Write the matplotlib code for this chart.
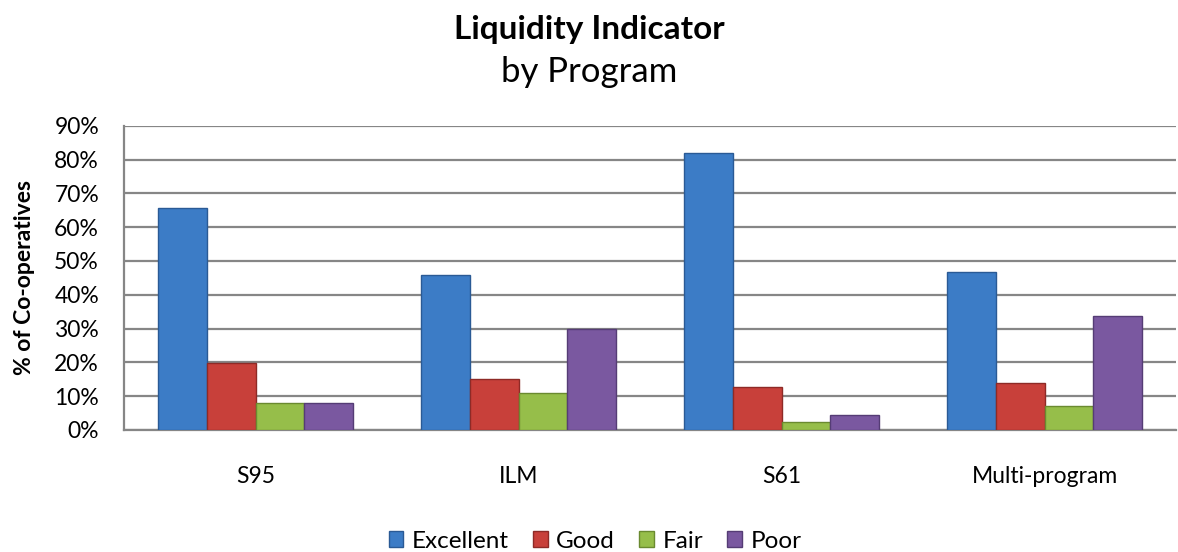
import matplotlib
matplotlib.use("Agg")
import matplotlib.pyplot as plt
import numpy as np

categories = ["S95", "ILM", "S61", "Multi-program"]
series_names = ["Excellent", "Good", "Fair", "Poor"]
excellent = [65.7, 45.8, 81.8, 46.8]
good = [19.7, 15.0, 12.6, 13.8]
fair = [7.9, 10.8, 2.5, 7.2]
poor = [7.9, 29.8, 4.4, 33.8]
yticks = [0, 10, 20, 30, 40, 50, 60, 70, 80, 90]

colors = ["#3C7CC6", "#C8403A", "#96BE4A", "#7A58A0"]
edges = ["#2A5A95", "#8E2A26", "#6A8A30", "#553C75"]

plt.rcParams['font.family'] = ['Lato', 'DejaVu Sans']

fig = plt.figure(figsize=(11.78, 5.52), dpi=100)
ax = fig.add_axes([124/1178, 1 - 430/552, (1176-124)/1178, (430-125.7)/552])

x = np.arange(len(categories))
w = 0.186
data = [excellent, good, fair, poor]
for i, (vals, c, e, name) in enumerate(zip(data, colors, edges, series_names)):
    ax.bar(x + (i - 1.5) * w, vals, width=w, color=c, edgecolor=e, linewidth=1.0,
           label=name, zorder=3)

ax.set_xlim(-0.5, 3.5)
ax.set_ylim(0, 90)
ax.set_yticks(yticks)
ax.set_yticklabels([f"{t}%" for t in yticks], fontsize=16.5)
ax.yaxis.grid(True, color="#868686", linewidth=1.6, zorder=0)
ax.set_axisbelow(True)
ax.set_xticks(x)
ax.set_xticklabels(categories, fontsize=16.5)
ax.tick_params(axis='x', length=0, pad=26)
ax.tick_params(axis='y', length=0, pad=18)
for s in ["top", "right"]:
    ax.spines[s].set_visible(False)
ax.spines["left"].set_color("#868686")
ax.spines["left"].set_linewidth(1.6)
ax.spines["bottom"].set_color("#868686")
ax.spines["bottom"].set_linewidth(1.6)
ax.set_ylabel("% of Co-operatives", fontsize=16.5, fontweight="bold", labelpad=14)

fig.text(0.5, 1 - 30/552, "Liquidity Indicator", ha="center", va="center",
         fontsize=24, fontweight="bold")
fig.text(0.5, 1 - 72/552, "by Program", ha="center", va="center", fontsize=25)

fig.legend(loc="center", bbox_to_anchor=(595/1178, 1 - 541/552), ncol=4,
           frameon=False, fontsize=17.5, handlelength=0.6, handleheight=0.6,
           handletextpad=0.35, columnspacing=1.0)

fig.savefig("out.png", dpi=100)
